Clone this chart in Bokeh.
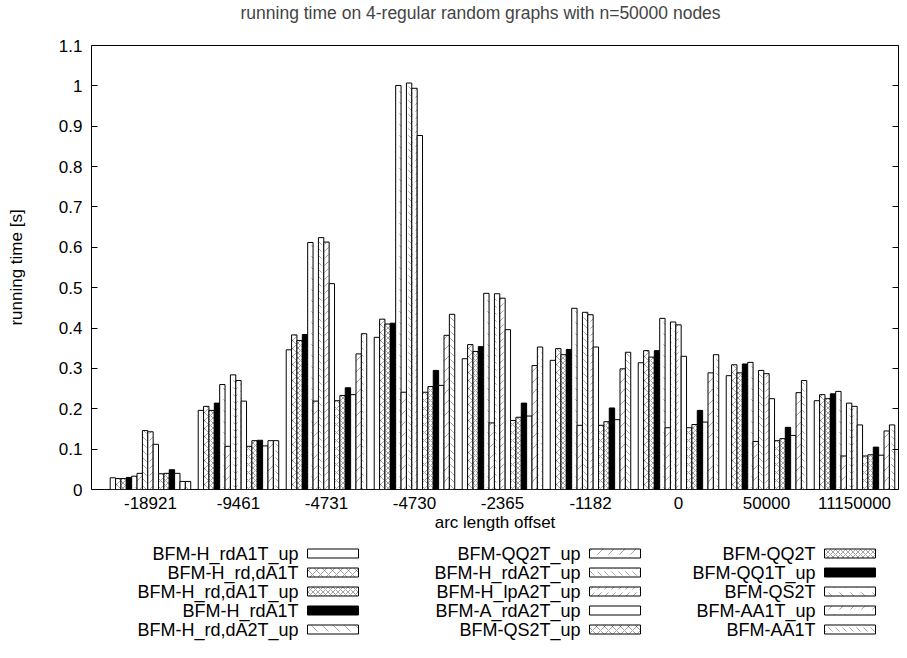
from bokeh.plotting import figure
from bokeh.models import Range1d, FixedTicker, LinearAxis, ColumnDataSource
from bokeh.layouts import column
from bokeh.transform import dodge
from bokeh.embed import file_html
from bokeh.resources import INLINE
from bokeh.core.properties import value

FONT = "Liberation Sans"
FS = "17px"
FS_TITLE = "17.5px"
FS_LEGEND = "18px"

title_text = "running time on 4-regular random graphs with n=50000 nodes"
x_label = "arc length offset"
y_label = "running time [s]"

categories = ["-18921", "-9461", "-4731", "-4730", "-2365", "-1182", "0", "50000", "11150000"]

series_names = [
    "BFM-H_rdA1T_up", "BFM-H_rd,dA1T", "BFM-H_rd,dA1T_up", "BFM-H_rdA1T", "BFM-H_rd,dA2T_up",
    "BFM-QQ2T_up", "BFM-H_rdA2T_up", "BFM-H_lpA2T_up", "BFM-A_rdA2T_up", "BFM-QS2T_up",
    "BFM-QQ2T", "BFM-QQ1T_up", "BFM-QS2T", "BFM-AA1T_up", "BFM-AA1T",
]

h_rda1t_up   = [0.029, 0.196, 0.346, 0.377, 0.324, 0.320, 0.314, 0.282, 0.220]
h_rd_da1t    = [0.027, 0.206, 0.383, 0.422, 0.359, 0.349, 0.344, 0.309, 0.235]
h_rd_da1t_up = [0.027, 0.196, 0.369, 0.410, 0.342, 0.334, 0.328, 0.289, 0.225]
h_rda1t      = [0.030, 0.214, 0.384, 0.412, 0.354, 0.347, 0.344, 0.311, 0.237]
h_rd_da2t_up = [0.033, 0.260, 0.612, 1.001, 0.486, 0.449, 0.424, 0.315, 0.243]
qq2t_up      = [0.040, 0.107, 0.219, 0.241, 0.165, 0.159, 0.153, 0.119, 0.083]
h_rda2t_up   = [0.146, 0.284, 0.624, 1.007, 0.485, 0.439, 0.415, 0.295, 0.214]
h_lpa2t_up   = [0.143, 0.270, 0.613, 0.994, 0.474, 0.433, 0.408, 0.287, 0.206]
a_rda2t_up   = [0.112, 0.219, 0.510, 0.877, 0.396, 0.353, 0.330, 0.225, 0.160]
qs2t_up      = [0.039, 0.107, 0.220, 0.241, 0.171, 0.159, 0.153, 0.121, 0.083]
qq2t         = [0.040, 0.121, 0.233, 0.255, 0.179, 0.168, 0.161, 0.126, 0.086]
qq1t_up      = [0.049, 0.122, 0.252, 0.295, 0.214, 0.202, 0.196, 0.154, 0.105]
qs2t         = [0.040, 0.108, 0.235, 0.258, 0.182, 0.173, 0.167, 0.134, 0.085]
aa1t_up      = [0.020, 0.121, 0.336, 0.382, 0.307, 0.299, 0.289, 0.240, 0.145]
aa1t         = [0.020, 0.121, 0.386, 0.434, 0.353, 0.340, 0.334, 0.270, 0.160]

series_values = [h_rda1t_up, h_rd_da1t, h_rd_da1t_up, h_rda1t, h_rd_da2t_up,
                 qq2t_up, h_rda2t_up, h_lpa2t_up, a_rda2t_up, qs2t_up,
                 qq2t, qq1t_up, qs2t, aa1t_up, aa1t]

y_ticks = [0, 0.1, 0.2, 0.3, 0.4, 0.5, 0.6, 0.7, 0.8, 0.9, 1, 1.1]
y_tick_labels = ["0", "0.1", "0.2", "0.3", "0.4", "0.5", "0.6", "0.7", "0.8", "0.9", "1", "1.1"]

# gnuplot-like fill patterns (cycle of 8)
patterns = [
    dict(fill_color="white", hatch_pattern=None, hatch_scale=6),
    dict(fill_color="white", hatch_pattern="diagonal_cross", hatch_scale=8),
    dict(fill_color="white", hatch_pattern="diagonal_cross", hatch_scale=5),
    dict(fill_color="black", hatch_pattern=None, hatch_scale=6),
    dict(fill_color="white", hatch_pattern="left_diagonal_dash", hatch_scale=11),
    dict(fill_color="white", hatch_pattern="right_diagonal_dash", hatch_scale=11),
    dict(fill_color="white", hatch_pattern="left_diagonal_dash", hatch_scale=7),
    dict(fill_color="white", hatch_pattern="right_diagonal_dash", hatch_scale=7),
]
HATCH = dict(hatch_color="black", hatch_weight=0.6, hatch_alpha=0.6)

n_series = len(series_names)
bar_w = 0.061

src = {"x": list(range(len(categories)))}
for k, vals in enumerate(series_values):
    src["s%d" % k] = vals
source = ColumnDataSource(src)

p = figure(frame_width=807, frame_height=444,
           min_border_left=91, min_border_right=9, min_border_top=45, min_border_bottom=45,
           x_range=Range1d(-0.67, 8.5), y_range=Range1d(0, 1.1),
           output_backend="svg", toolbar_location=None,
           x_axis_label=x_label, y_axis_label=y_label)

p.title.text = title_text
p.title.text_font = FONT
p.title.text_font_size = FS_TITLE
p.title.text_font_style = "normal"
p.title.align = "left"
p.title.offset = 149
p.title.standoff = 0
p.title.padding = {"left": 0, "right": 0, "top": 0, "bottom": 23}

for k in range(n_series):
    st = patterns[k % 8]
    kw = dict(fill_color=st["fill_color"], line_color="black", line_width=1)
    if st["hatch_pattern"]:
        kw.update(hatch_pattern=st["hatch_pattern"], hatch_scale=st["hatch_scale"], **HATCH)
    p.vbar(x=dodge("x", (k - (n_series - 1) / 2) * bar_w, range=p.x_range),
           top="s%d" % k, width=bar_w, bottom=0, source=source, **kw)

p.grid.visible = False
p.outline_line_color = "black"
p.outline_line_width = 1

# y axis
yax = p.yaxis[0]
yax.ticker = FixedTicker(ticks=y_ticks)
yax.major_label_overrides = {t: l for t, l in zip(y_ticks, y_tick_labels)}
yax.major_tick_in = 6
yax.major_tick_out = 0
yax.minor_tick_in = 0
yax.minor_tick_out = 0
yax.axis_line_color = None
yax.major_label_standoff = 9
yax.axis_label_standoff = 30

# mirrored right ticks
rax = LinearAxis(ticker=FixedTicker(ticks=y_ticks),
                 major_label_overrides={t: "" for t in y_ticks},
                 major_tick_in=6, major_tick_out=0, minor_tick_in=0, minor_tick_out=0,
                 axis_line_color=None, major_label_standoff=0)
p.add_layout(rax, "right")

# x axis
xax = p.xaxis[0]
xax.ticker = FixedTicker(ticks=list(range(len(categories))))
xax.major_label_overrides = {i: c for i, c in enumerate(categories)}
xax.major_tick_in = 0
xax.major_tick_out = 0
xax.minor_tick_in = 0
xax.minor_tick_out = 0
xax.axis_line_color = None
xax.major_label_standoff = 7
xax.axis_label_standoff = 1

for ax in (xax, yax):
    ax.major_label_text_font = FONT
    ax.major_label_text_font_size = FS
    ax.major_label_text_color = "black"
    ax.axis_label_text_font = FONT
    ax.axis_label_text_font_size = FS
    ax.axis_label_text_font_style = "normal"
    ax.axis_label_text_color = "black"

# legend figure (frame aligned with main frame; x in page pixels, y downward)
LH = 124
lg = figure(frame_width=807, frame_height=LH,
            min_border_left=91, min_border_right=9, min_border_top=0, min_border_bottom=0,
            x_range=Range1d(91, 898), y_range=Range1d(LH, 0),
            output_backend="svg", toolbar_location=None,
            x_axis_type=None, y_axis_type=None)
lg.outline_line_color = None
lg.grid.visible = False

col_text_right = [298, 580, 815]
row_y = [19, 38, 57, 76, 95]
sw_gap, sw_w, sw_h = 9, 51, 9

for k, name in enumerate(series_names):
    c, r = divmod(k, 5)
    xr = col_text_right[c]
    y = row_y[r]
    lg.text(x=[xr], y=[y], text=[name], text_align="right", text_baseline="middle",
            text_font=value(FONT), text_font_size=FS_LEGEND, text_color="black")
    st = patterns[k % 8]
    kw = dict(fill_color=st["fill_color"], line_color="black", line_width=1)
    if st["hatch_pattern"]:
        kw.update(hatch_pattern=st["hatch_pattern"], hatch_scale=st["hatch_scale"], **HATCH)
    lg.rect(x=[xr + sw_gap + sw_w / 2], y=[y], width=sw_w, height=sw_h, **kw)

layout = column(p, lg, spacing=0)
open("out.html", "w").write(file_html(layout, INLINE))
